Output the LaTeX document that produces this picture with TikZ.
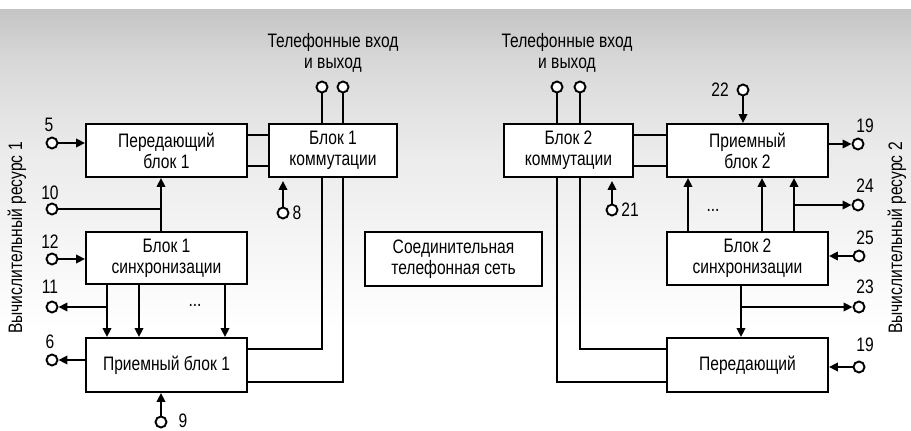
\documentclass[tikz,border=0pt]{standalone}
\usepackage{fontspec}
\setmainfont[FakeStretch=0.8]{Liberation Sans}
\usetikzlibrary{arrows.meta,calc}
\pgfdeclareverticalshading{bgshade}{100bp}{color(0bp)=(white); color(25bp)=(white); color(37bp)=(white); color(46.4bp)=(black!3.5); color(58.3bp)=(black!8); color(69bp)=(black!15.3); color(75bp)=(black!23); color(100bp)=(black!23)}
\begin{document}
\begin{tikzpicture}[x=1pt,y=-1pt,
  every node/.style={font=\fontsize{19.5}{21}\selectfont},
  blk/.style={draw, line width=1.9pt, fill=white, align=center, inner sep=0pt},
  ln/.style={line width=1.9pt},
  arr/.style={line width=1.9pt, -{Triangle[length=9pt,width=8.5pt]}},
  term/.style={circle, draw, line width=1.9pt, fill=white, minimum size=11pt, inner sep=0pt},
  lbl/.style={inner sep=0pt}
]
\useasboundingbox (0,0) rectangle (911,431);
\fill[white] (0,0) rectangle (911,431);
\shade[shading=bgshade] (0,9) rectangle (911,431);

% boxes
\node[blk, minimum width=161pt, minimum height=53pt] (tx1) at (166.5,150.5) {Передающий\\блок 1};
\node[blk, minimum width=128pt, minimum height=53pt] (sw1) at (333,150.5) {Блок 1\\коммутации};
\node[blk, minimum width=161pt, minimum height=52pt] (sy1) at (166.5,258) {Блок 1\\синхронизации};
\node[blk, minimum width=161pt, minimum height=54pt] (rx1) at (166.5,365) {Приемный блок 1};
\node[blk, minimum width=177pt, minimum height=54pt] (net) at (453.5,259) {Соединительная\\телефонная сеть};
\node[blk, minimum width=129pt, minimum height=53pt] (sw2) at (568.5,150.5) {Блок 2\\коммутации};
\node[blk, minimum width=161pt, minimum height=53pt] (rx2) at (747.5,150.5) {Приемный\\блок 2};
\node[blk, minimum width=161pt, minimum height=53pt] (sy2) at (747.5,258.5) {Блок 2\\синхронизации};
\node[blk, minimum width=161pt, minimum height=54pt] (tx2) at (747.5,365) {Передающий};

% titles
\node[align=center, inner sep=0pt] (t1) at (333,53) {Телефонные вход\\и выход};
\node[align=center, inner sep=0pt] (t2) at (567,53) {Телефонные вход\\и выход};
\node[rotate=90, inner sep=0pt] (r1) at (17,238) {Вычислительный ресурс 1};
\node[rotate=90, inner sep=0pt] (r2) at (897,238) {Вычислительный ресурс 2};

% helper coordinates
\coordinate (y135) at (0,135);
\coordinate (y166) at (0,166);
\coordinate (y349) at (0,349);
\coordinate (y382) at (0,382);
\coordinate (j10) at (161,209);
\coordinate (k1) at (107,307);
\coordinate (k2) at (139,307);
\coordinate (k3) at (225,307);
\coordinate (m1) at (688,205);
\coordinate (m2) at (762,205);
\coordinate (j24) at (794,205);
\coordinate (j23) at (741,307);

% terminals
\node[term] (c5) at (52,143) {};
\node[term] (c10) at (52,209) {};
\node[term] (c12) at (52,259) {};
\node[term] (c11) at (52,307) {};
\node[term] (c6) at (52,360) {};
\node[term] (c9) at (161,422) {};
\node[term] (c8) at (283,213) {};
\node[term] (tA) at (322,87) {};
\node[term] (tB) at (343,87) {};
\node[term] (tC) at (557,87) {};
\node[term] (tD) at (580,87) {};
\node[term] (c21) at (612,210) {};
\node[term] (c22) at (743,90) {};
\node[term] (c19a) at (858,144) {};
\node[term] (c24) at (858,205) {};
\node[term] (c25) at (859,256) {};
\node[term] (c23) at (859,307) {};
\node[term] (c19b) at (859,367) {};

% labels
\node[lbl] (l5) at (49,125) {5};
\node[lbl] (l10) at (50,193) {10};
\node[lbl] (l12) at (50,242) {12};
\node[lbl] (l11) at (50,287) {11};
\node[lbl] (l6) at (50,342) {6};
\node[lbl] (l9) at (183,421) {9};
\node[lbl] (l8) at (297,213) {8};
\node[lbl] (l22) at (720,90) {22};
\node[lbl] (l19a) at (865,126) {19};
\node[lbl] (l24) at (865,186) {24};
\node[lbl] (l21) at (630,210) {21};
\node[lbl] (l25) at (865,238) {25};
\node[lbl] (l23) at (865,287) {23};
\node[lbl] (l19b) at (865,345) {19};
\node[lbl] (d1) at (195,305) {...};
\node[lbl] (d2) at (713,210) {...};

% left side connections
\draw[ln] (tx1.east |- y135) -- (sw1.west |- y135);
\draw[ln] (tx1.east |- y166) -- (sw1.west |- y166);
\draw[ln] (tA) -- (sw1.north -| tA);
\draw[ln] (tB) -- (sw1.north -| tB);
\draw[ln] (sw1.south -| tA) |- (rx1.east |- y349);
\draw[ln] (sw1.south -| tB) |- (rx1.east |- y382);
\draw[arr] (c5) -- (tx1.west |- c5);
\draw[arr] (sy1.north -| j10) -- (tx1.south -| j10);
\draw[ln] (c10) -- (j10);
\draw[arr] (c8) -- ($(sw1.south -| c8)+(0,3)$);
\draw[arr] (c12) -- (sy1.west |- c12);
\draw[arr] (k1) -- (c11);
\draw[arr] (sy1.south -| k1) -- (rx1.north -| k1);
\draw[arr] (sy1.south -| k2) -- (rx1.north -| k2);
\draw[arr] (sy1.south -| k3) -- (rx1.north -| k3);
\draw[arr] (rx1.west |- c6) -- (c6);
\draw[arr] (c9) -- (rx1.south -| c9);

% right side connections
\draw[ln] (sw2.east |- y135) -- (rx2.west |- y135);
\draw[ln] (sw2.east |- y166) -- (rx2.west |- y166);
\draw[ln] (tC) -- (sw2.north -| tC);
\draw[ln] (tD) -- (sw2.north -| tD);
\draw[ln] (sw2.south -| tD) |- (tx2.west |- y349);
\draw[ln] (sw2.south -| tC) |- (tx2.west |- y382);
\draw[arr] (c21) -- ($(sw2.south -| c21)+(0,3)$);
\draw[arr] (c22) -- (rx2.north -| c22);
\draw[arr] (rx2.east |- c19a) -- (c19a);
\draw[arr] (sy2.north -| m1) -- (rx2.south -| m1);
\draw[arr] (sy2.north -| m2) -- (rx2.south -| m2);
\draw[arr] (sy2.north -| j24) -- (rx2.south -| j24);
\draw[arr] (j24) -- (c24);
\draw[arr] (c25) -- (sy2.east |- c25);
\draw[arr] (sy2.south -| j23) -- (tx2.north -| j23);
\draw[arr] (j23) -- (c23);
\draw[arr] (c19b) -- (tx2.east |- c19b);
\end{tikzpicture}
\end{document}
